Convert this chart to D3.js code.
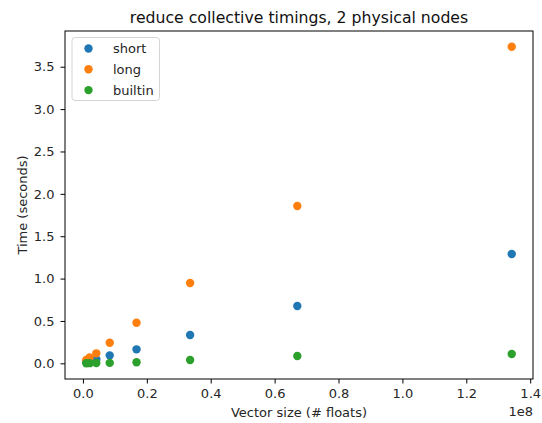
<!DOCTYPE html>
<html>
<head>
<meta charset="utf-8">
<script src="https://cdn.jsdelivr.net/npm/d3@7"></script>
<style>
  html, body { margin: 0; padding: 0; background: #fff; }
  svg { display: block; font-family: "DejaVu Sans", sans-serif; }
</style>
</head>
<body>
<svg id="chart" width="542" height="423"></svg>
<script>
// Vector sizes (number of floats), 2^20 .. 2^27
const sizes = [1048576, 2097152, 4194304, 8388608, 16777216, 33554432, 67108864, 134217728];

// Reduce timings in seconds for each algorithm
const shortTimes   = [0.015, 0.025, 0.047, 0.094, 0.165, 0.334, 0.676, 1.29];
const longTimes    = [0.04, 0.07, 0.118, 0.243, 0.479, 0.948, 1.856, 3.735];
const builtinTimes = [0.0017, 0.002, 0.003, 0.005, 0.012, 0.04, 0.086, 0.11];

const seriesNames  = ["short", "long", "builtin"];
const seriesColors = ["#1f77b4", "#ff7f0e", "#2ca02c"];

const xTicks = [0, 0.2e8, 0.4e8, 0.6e8, 0.8e8, 1.0e8, 1.2e8, 1.4e8];
const yTicks = [0, 0.5, 1.0, 1.5, 2.0, 2.5, 3.0, 3.5];

const series = [shortTimes, longTimes, builtinTimes].map((vals, i) => ({
  name: seriesNames[i],
  color: seriesColors[i],
  points: vals.map((v, j) => ({ x: sizes[j], y: v }))
}));

const plot = { left: 65, right: 533, top: 31, bottom: 379 };

// Matplotlib-style 5% data margins
function padded(lo, hi) {
  const r = hi - lo;
  return [lo - 0.05 * r, hi + 0.05 * r];
}
const allY = shortTimes.concat(longTimes, builtinTimes);

const x = d3.scaleLinear()
  .domain(padded(d3.min(sizes), d3.max(sizes)))
  .range([plot.left, plot.right]);
const y = d3.scaleLinear()
  .domain(padded(d3.min(allY), d3.max(allY)))
  .range([plot.bottom, plot.top]);

const svg = d3.select("#chart");

// Axes
const xAxis = d3.axisBottom(x).tickValues(xTicks)
  .tickFormat(d => (d / 1e8).toFixed(1)).tickSize(4.5).tickPadding(5.5);
const yAxis = d3.axisLeft(y).tickValues(yTicks)
  .tickFormat(d => d.toFixed(1)).tickSize(4.5).tickPadding(6);

const gx = svg.append("g").attr("transform", `translate(0,${plot.bottom})`).call(xAxis);
const gy = svg.append("g").attr("transform", `translate(${plot.left},0)`).call(yAxis);
[gx, gy].forEach(g => {
  g.select(".domain").remove();
  g.selectAll(".tick line").attr("stroke", "#000").attr("stroke-width", 1);
  g.selectAll(".tick text").attr("fill", "#262626")
    .style("font-family", "DejaVu Sans").style("font-size", "13px");
});

// Frame
svg.append("rect")
  .attr("x", plot.left).attr("y", plot.top)
  .attr("width", plot.right - plot.left).attr("height", plot.bottom - plot.top)
  .attr("fill", "none").attr("stroke", "#000").attr("stroke-width", 1);

// Scatter points
series.forEach(s => {
  svg.append("g").selectAll("circle")
    .data(s.points).join("circle")
    .attr("cx", d => x(d.x)).attr("cy", d => y(d.y))
    .attr("r", 4.2).attr("fill", s.color);
});

// Title and labels
svg.append("text")
  .attr("x", (plot.left + plot.right) / 2).attr("y", 22.5)
  .attr("text-anchor", "middle").attr("fill", "#111")
  .style("font-size", "15.7px")
  .text("reduce collective timings, 2 physical nodes");

svg.append("text")
  .attr("x", (plot.left + plot.right) / 2).attr("y", 417)
  .attr("text-anchor", "middle").attr("fill", "#262626")
  .style("font-size", "13px")
  .text("Vector size (# floats)");

svg.append("text")
  .attr("transform", `translate(26.5,${(plot.top + plot.bottom) / 2}) rotate(-90)`)
  .attr("text-anchor", "middle").attr("fill", "#262626")
  .style("font-size", "13px")
  .text("Time (seconds)");

svg.append("text")
  .attr("x", plot.right).attr("y", 416)
  .attr("text-anchor", "end").attr("fill", "#262626")
  .style("font-size", "13px")
  .text("1e8");

// Legend
const legend = svg.append("g");
legend.append("rect")
  .attr("x", 72).attr("y", 37.5).attr("width", 87.5).attr("height", 63)
  .attr("rx", 3).attr("fill", "#fff").attr("fill-opacity", 0.8)
  .attr("stroke", "#d5d5d5").attr("stroke-width", 1);
series.forEach((s, i) => {
  const cy = 48.5 + i * 20.8;
  legend.append("circle").attr("cx", 88.5).attr("cy", cy).attr("r", 4.2).attr("fill", s.color);
  legend.append("text").attr("x", 113).attr("y", cy + 4.6)
    .attr("fill", "#262626").style("font-size", "13px").text(s.name);
});
</script>
</body>
</html>
